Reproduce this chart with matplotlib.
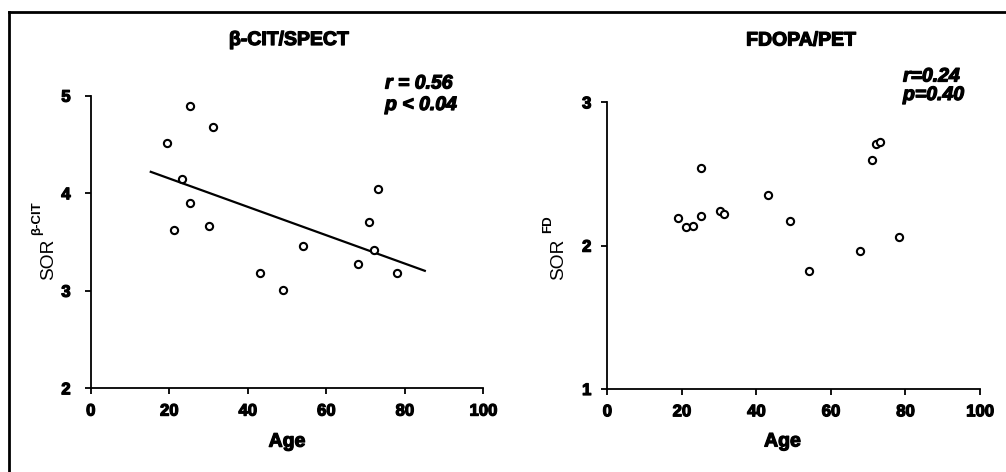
import numpy as np
import matplotlib
matplotlib.use("Agg")
import matplotlib.pyplot as plt
import matplotlib.patheffects as pe
from matplotlib.lines import Line2D

plt.rcParams['font.family'] = ['Liberation Sans', 'DejaVu Sans']

# ---------------- data ----------------
age_cit = [19.4, 25.3, 31.2, 23.3, 25.3, 21.1, 30.2, 43.1, 49.0, 54.0, 68.0, 71.0, 72.1, 73.1, 77.9]
sor_cit = [4.51, 4.89, 4.68, 4.15, 3.90, 3.62, 3.66, 3.18, 3.01, 3.46, 3.27, 3.70, 3.42, 4.04, 3.18]
fit_cit_range = [15.3, 85.1]
fit_cit_slope = -0.01454
fit_cit_intercept = 4.442

age_fd = [19.1, 21.0, 23.1, 25.1, 25.1, 30.2, 31.3, 43.1, 49.1, 54.1, 67.8, 71.1, 72.1, 73.2, 78.2]
sor_fd = [2.19, 2.13, 2.14, 2.54, 2.21, 2.24, 2.22, 2.35, 2.17, 1.82, 1.96, 2.60, 2.71, 2.72, 2.06]

x_ticks = [0, 20, 40, 60, 80, 100]
y_ticks_cit = [2, 3, 4, 5]
y_ticks_fd = [1, 2, 3]

titles = ["β-CIT/SPECT", "FDOPA/PET"]
stats_cit = ["r = 0.56", "p < 0.04"]
stats_fd = ["r=0.24", "p=0.40"]
xlabel = "Age"
ylabel_main = "SOR"
ylabel_sup = ["β-CIT", "FD"]

# ---------------- figure ----------------
W, H = 1006, 472
fig = plt.figure(figsize=(W / 100, H / 100), dpi=100)
fig.patch.set_facecolor('white')

heavy = [pe.withStroke(linewidth=0.9, foreground='black')]

def fx(px):
    return px / W

def fy(py):
    return 1 - py / H

def make_axes(x0, x1, y0, y1):
    return fig.add_axes([fx(x0), fy(y1), fx(x1) - fx(x0), fy(y0) - fy(y1)])

ax1 = make_axes(90.7, 483.3, 95.7, 388.3)
ax2 = make_axes(607.3, 980.0, 102.3, 389.0)

def style(ax, yticks, ypad, xlab_pos):
    ax.set_xlim(0, 100)
    ax.set_ylim(yticks[0], yticks[-1])
    ax.set_xticks(x_ticks)
    ax.set_yticks(yticks)
    ax.set_xticklabels([str(t) for t in x_ticks])
    ax.set_yticklabels([str(t) for t in yticks])
    for s in ['top', 'right']:
        ax.spines[s].set_visible(False)
    for s in ['left', 'bottom']:
        ax.spines[s].set_linewidth(1.3)
        ax.spines[s].set_color('black')
    ax.tick_params(axis='x', direction='out', length=4.5, width=1.3, pad=6.5,
                   labelsize=12)
    ax.tick_params(axis='y', direction='out', length=4.5, width=1.3, pad=ypad,
                   labelsize=12)
    for lab in ax.get_xticklabels() + ax.get_yticklabels():
        lab.set_fontweight('bold')
        lab.set_path_effects(heavy)
    ax.set_facecolor('none')
    xl = ax.set_xlabel(xlabel, fontsize=14, fontweight='bold', labelpad=11)
    xl.set_path_effects(heavy)
    ax.xaxis.set_label_coords(xlab_pos, -0.155)

style(ax1, y_ticks_cit, 10, 0.5)
style(ax2, y_ticks_fd, 7, 0.47)

mk = dict(marker='o', linestyle='none', markersize=5.2, markerfacecolor='white',
          markeredgecolor='black', markeredgewidth=1.5, clip_on=False, zorder=3)
ax1.plot(age_cit, sor_cit, **mk)
ax2.plot(age_fd, sor_fd, **mk)

fit_x = np.array(fit_cit_range)
ax1.plot(fit_x, fit_cit_intercept + fit_cit_slope * fit_x, color='black', lw=1.6, zorder=2)

# titles
for txt, xc, yb in [(titles[0], 289, 45), (titles[1], 801, 45.5)]:
    fig.text(fx(xc), fy(yb), txt, ha='center', va='baseline', fontsize=14,
             fontweight='bold', path_effects=heavy)

# stats
for lines, x0, ys in [(stats_cit, 385, [88.5, 110]), (stats_fd, 903, [81.5, 100])]:
    for line, yb in zip(lines, ys):
        fig.text(fx(x0), fy(yb), line, ha='left', va='baseline', fontsize=14,
                 fontweight='bold', style='italic', path_effects=heavy)

# y labels (main + superscript), rotated, anchored on baseline start
for sup, xm, xs, ys in [(ylabel_sup[0], 53.3, 40.5, 235.5), (ylabel_sup[1], 563.3, 550.9, 233.5)]:
    fig.text(fx(xm), fy(280), ylabel_main, rotation=90, rotation_mode='anchor',
             ha='left', va='baseline', fontsize=13.8)
    fig.text(fx(xs), fy(ys), sup, rotation=90, rotation_mode='anchor',
             ha='left', va='baseline', fontsize=9.5, fontweight='bold')

# outer frame (left and top edges)
fig.add_artist(Line2D([fx(9), fx(9)], [0, fy(11.5)], transform=fig.transFigure,
                      color='black', lw=2.0))
fig.add_artist(Line2D([fx(9), 1], [fy(11.5), fy(11.5)], transform=fig.transFigure,
                      color='black', lw=2.0))

fig.savefig("out.png", dpi=100, facecolor='white')
